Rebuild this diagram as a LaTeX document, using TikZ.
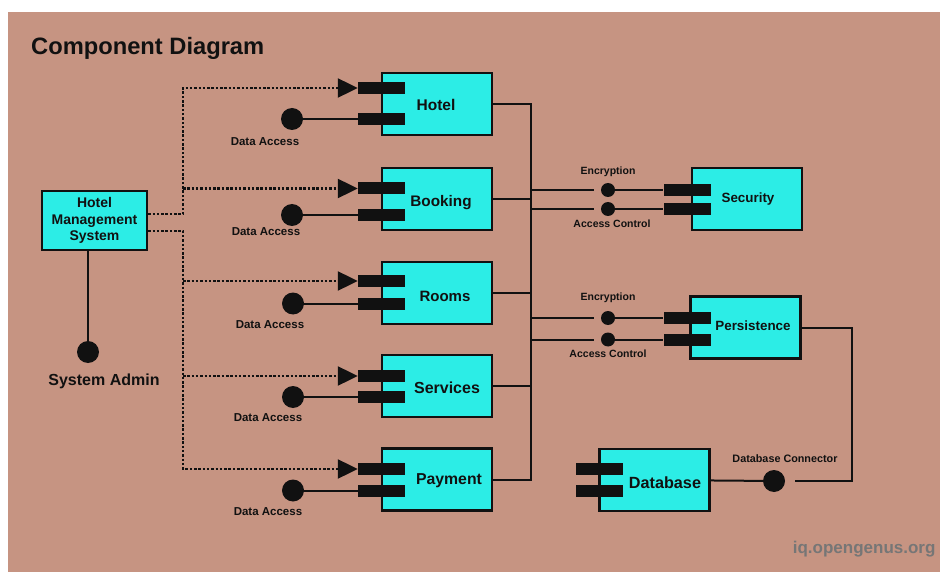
\documentclass[tikz,border=0pt]{standalone}
\usepackage{fontspec}
\setmainfont{Liberation Sans}
\usetikzlibrary{arrows.meta,calc}
\definecolor{bgtan}{HTML}{C69482}
\definecolor{compcyan}{HTML}{2CEDE6}
\definecolor{inkblack}{HTML}{111111}
\definecolor{markgray}{HTML}{767676}
\newcommand{\fsz}[1]{\fontsize{#1}{#1}\selectfont}
\begin{document}
\begin{tikzpicture}[x=1pt,y=-1pt,
  comp/.style={draw=inkblack,line width=2.5pt,fill=compcyan,minimum width=110pt,minimum height=62pt,inner sep=0pt},
  clabel/.style={font=\bfseries\fsz{15.5},text=inkblack},
  port/.style={fill=inkblack,minimum width=47pt,minimum height=12pt,inner sep=0pt},
  bigdot/.style={circle,fill=inkblack,minimum size=22pt,inner sep=0pt},
  smalldot/.style={circle,fill=inkblack,minimum size=14pt,inner sep=0pt},
  wire/.style={draw=inkblack,line width=2pt},
  dotline/.style={draw=inkblack,line width=2.2pt,dash pattern=on 2.5pt off 1.8pt},
  dotarrow/.style={dotline,-{Triangle[width=19pt,length=20pt]}},
  lbl/.style={font=\bfseries\fsz{11.5},text=inkblack},
  slbl/.style={font=\bfseries\fsz{10.5},text=inkblack}
]
\useasboundingbox (0,0) rectangle (940,572);
\fill[white] (0,0) rectangle (940,572);
\fill[bgtan] (8,12) rectangle (940,572);

% title
\node[anchor=base west,font=\bfseries\fsz{23.7},text=inkblack,inner sep=0pt] (title) at (31,55) {Component Diagram};

% main system
\node[comp,minimum width=105pt,minimum height=59pt,align=center,font=\bfseries\fontsize{14}{16.5}\selectfont,text=inkblack] (hms) at (94.5,220.5)
  {Hotel\\Management\\System};
\node[bigdot] (admin) at (88,352) {};
\node[font=\bfseries\fsz{16},text=inkblack] (adminlbl) at (104,381) {System Admin};
\draw[wire] (hms.south -| admin) -- (admin);

% components
\node[comp] (hotel) at (437,104) {};
\node[clabel] (hotellbl) at (436,105) {Hotel};
\node[comp] (booking) at (437,199) {};
\node[clabel,font=\bfseries\fsz{15.3}] (bookinglbl) at (441,203) {Booking};
\node[comp] (rooms) at (437,293) {};
\node[clabel,font=\bfseries\fsz{15}] (roomslbl) at (445,296) {Rooms};
\node[comp] (services) at (437,386) {};
\node[clabel,font=\bfseries\fsz{16}] (serviceslbl) at (447,388) {Services};
\node[comp] (payment) at (437,479.5) {};
\node[clabel,font=\bfseries\fsz{15.8}] (paymentlbl) at (449,481) {Payment};

\node[comp] (security) at (747,199) {};
\node[clabel,font=\bfseries\fsz{13.4}] (securitylbl) at (748,199) {Security};
\node[comp] (pers) at (745.5,327.5) {};
\node[clabel,font=\bfseries\fsz{13.4}] (perslbl) at (753,326) {Persistence};
\node[comp] (db) at (654.5,480) {};
\node[clabel,font=\bfseries\fsz{16.2}] (dblbl) at (665,483) {Database};

% ports
\node[port] (hp1) at (381.5,88) {};
\node[port] (hp2) at (381.5,119) {};
\node[port] (bp1) at (381.5,188.5) {};
\node[port] (bp2) at (381.5,215) {};
\node[port] (rp1) at (381.5,281) {};
\node[port] (rp2) at (381.5,303.5) {};
\node[port] (sp1) at (381.5,376) {};
\node[port] (sp2) at (381.5,397) {};
\node[port] (pp1) at (381.5,469) {};
\node[port] (pp2) at (381.5,490.5) {};
\node[port] (secp1) at (687,190) {};
\node[port] (secp2) at (687,209) {};
\node[port] (perp1) at (687,318) {};
\node[port] (perp2) at (687,339.5) {};
\node[port] (dbp1) at (599,469) {};
\node[port] (dbp2) at (599,491) {};

% data access interfaces
\node[bigdot] (da1) at (292,119) {};
\node[bigdot] (da2) at (292,215) {};
\node[bigdot] (da3) at (293,303.5) {};
\node[bigdot] (da4) at (293,397) {};
\node[bigdot] (da5) at (293,490.5) {};
\node[lbl] (dal1) at (265,142) {Data Access};
\node[lbl] (dal2) at (266,232) {Data Access};
\node[lbl] (dal3) at (270,325) {Data Access};
\node[lbl] (dal4) at (268,418) {Data Access};
\node[lbl] (dal5) at (268,512) {Data Access};
\draw[wire] (da1) -- (hp2);
\draw[wire] (da2) -- (bp2);
\draw[wire] (da3) -- (rp2);
\draw[wire] (da4) -- (sp2);
\draw[wire] (da5) -- (pp2);

% dotted dependencies
\coordinate (dx) at (183,0);
\coordinate (hmsA) at ($(hms.east)+(0,-6.5)$);
\coordinate (hmsB) at ($(hms.east)+(0,10.5)$);
\draw[dotarrow] (hmsA) -- (hmsA -| dx) -- (dx |- hp1) -- (hp1.west);
\draw[dotarrow] (dx |- bp1) -- (bp1.west);
\draw[dotarrow] (hmsB) -- (hmsB -| dx) -- (dx |- pp1) -- (pp1.west);
\draw[dotarrow] (dx |- rp1) -- (rp1.west);
\draw[dotarrow] (dx |- sp1) -- (sp1.west);

% bus
\coordinate (bx) at (531,0);
\draw[wire] (hotel.east) -- (hotel.east -| bx) -- (payment.east -| bx) -- (payment.east);
\draw[wire] (booking.east) -- (booking.east -| bx);
\draw[wire] (rooms.east) -- (rooms.east -| bx);
\draw[wire] (services.east) -- (services.east -| bx);

% security interfaces
\node[smalldot] (se1) at (608,190) {};
\node[smalldot] (se2) at (608,209) {};
\coordinate (ge1) at (594,190);
\coordinate (ge2) at (594,209);
\draw[wire] (ge1 -| bx) -- (ge1);
\draw[wire] (ge2 -| bx) -- (ge2);
\draw[wire] (se1) -- (secp1);
\draw[wire] (se2) -- (secp2);
\node[slbl] (encl1) at (608,172) {Encryption};
\node[slbl] (accl1) at (612,224) {Access Control};

% persistence interfaces
\node[smalldot] (pe1) at (608,318) {};
\node[smalldot] (pe2) at (608,339.5) {};
\coordinate (gp1) at (594,318);
\coordinate (gp2) at (594,339.5);
\draw[wire] (gp1 -| bx) -- (gp1);
\draw[wire] (gp2 -| bx) -- (gp2);
\draw[wire] (pe1) -- (perp1);
\draw[wire] (pe2) -- (perp2);
\node[slbl] (encl2) at (608,298) {Encryption};
\node[slbl] (accl2) at (608,354) {Access Control};

% database connector
\node[bigdot] (dbc) at (774,481) {};
\node[slbl,font=\bfseries\fsz{10.8}] (dbclbl) at (785,459) {Database Connector};
\draw[wire] (db) -- (dbc);
\coordinate (gdb) at (795,481);
\coordinate (rx) at (852,0);
\draw[wire] (gdb) -- (gdb -| rx) -- (rx |- pers.east) -- (pers.east);

% watermark
\node[anchor=east,font=\bfseries\fsz{17},text=markgray] (mark) at (939,549) {iq.opengenus.org};
\end{tikzpicture}
\end{document}
